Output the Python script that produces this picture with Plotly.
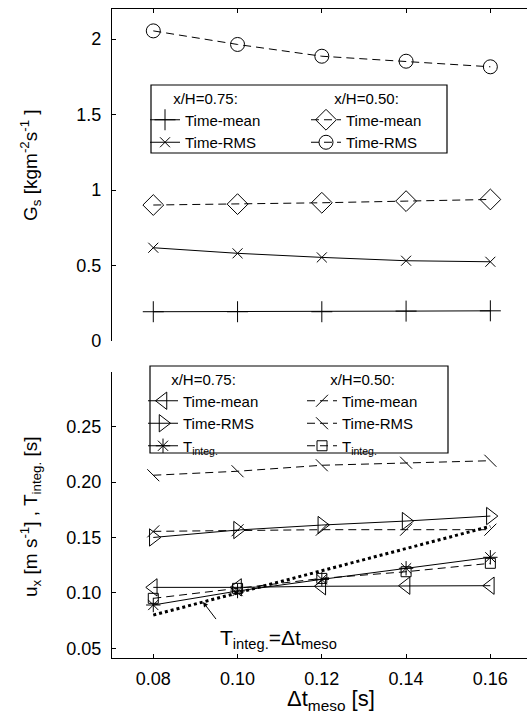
import plotly.graph_objects as go

# ---------------- data ----------------
dt_meso = [0.08, 0.10, 0.12, 0.14, 0.16]

# top panel: G_s [kg m^-2 s^-1]
gs_mean_075 = [0.194, 0.194, 0.194, 0.198, 0.200]
gs_rms_075 = [0.618, 0.581, 0.554, 0.532, 0.525]
gs_mean_050 = [0.901, 0.907, 0.916, 0.927, 0.938]
gs_rms_050 = [2.055, 1.965, 1.887, 1.854, 1.817]

# bottom panel: u_x [m s^-1], T_integ [s]
ux_mean_075 = [0.105, 0.105, 0.106, 0.1065, 0.1065]
ux_rms_075 = [0.150, 0.1567, 0.1612, 0.1648, 0.1693]
tint_075 = [0.0891, 0.1017, 0.1122, 0.1222, 0.1321]
ux_mean_050 = [0.1555, 0.1565, 0.157, 0.157, 0.157]
ux_rms_050 = [0.2061, 0.2097, 0.2151, 0.2174, 0.2192]
tint_050 = [0.0951, 0.1041, 0.1131, 0.1191, 0.1267]

ref_line_x = [0.08, 0.16]
ref_line_y = [0.08, 0.16]

x_ticks = [0.08, 0.10, 0.12, 0.14, 0.16]
top_y_ticks = [0, 0.5, 1, 1.5, 2]
bot_y_ticks = [0.05, 0.10, 0.15, 0.20, 0.25]

# ---------------- layout helpers ----------------
W, H = 527, 718
ML, MR, MT, MB = 112, 0, 9, 60
PW, PH = W - ML - MR, H - MT - MB


def px(xp):
    return (xp - ML) / PW


def py(yp):
    return (H - MB - yp) / PH


FONT = "Liberation Sans, Arial, Helvetica, sans-serif"
DASH = "8px,5px"

fig = go.Figure()


def add(x, y, name, symbol, size, dash, xa, ya, legend):
    fig.add_trace(go.Scatter(
        x=x, y=y, name=name, mode="lines+markers",
        line=dict(color="black", width=1, dash=dash),
        marker=dict(symbol=symbol, size=size, color="black",
                    line=dict(color="black", width=1)),
        xaxis=xa, yaxis=ya, legend=legend,
    ))


# top panel
add(dt_meso, gs_mean_075, "Time-mean", "cross-thin-open", 15, "solid", "x", "y", "legend")
add(dt_meso, gs_rms_075, "Time-RMS", "x-thin-open", 10, "solid", "x", "y", "legend")
add(dt_meso, gs_mean_050, "Time-mean", "diamond-open", 16, DASH, "x", "y", "legend2")
add(dt_meso, gs_rms_050, "Time-RMS", "circle-open", 14, DASH, "x", "y", "legend2")

# bottom panel
fig.add_trace(go.Scatter(
    x=ref_line_x, y=ref_line_y, mode="lines", showlegend=False,
    line=dict(color="black", width=3, dash="dot"), xaxis="x2", yaxis="y2"))
add(dt_meso, ux_mean_075, "Time-mean", "triangle-left-open", 15, "solid", "x2", "y2", "legend3")
add(dt_meso, ux_rms_075, "Time-RMS", "triangle-right-open", 15, "solid", "x2", "y2", "legend3")
add(dt_meso, tint_075, "T<sub>integ.</sub>", "asterisk-open", 12, "solid", "x2", "y2", "legend3")
add(dt_meso, ux_mean_050, "Time-mean", "line-ne-open", 12, DASH, "x2", "y2", "legend4")
add(dt_meso, ux_rms_050, "Time-RMS", "line-nw-open", 12, DASH, "x2", "y2", "legend4")
add(dt_meso, tint_050, "T<sub>integ.</sub>", "square-open", 10, DASH, "x2", "y2", "legend4")

x_range = [0.0702, 0.1687]
top_dom = [py(341), 1.0]
bot_dom = [0.0, py(372)]

axis_common = dict(showgrid=False, zeroline=False, showline=True, linecolor="black",
                   linewidth=1.2, ticks="inside", ticklen=4, tickcolor="black",
                   tickfont=dict(family=FONT, size=18, color="black"))

legend_common = dict(
    bgcolor="rgba(0,0,0,0)", borderwidth=0, xanchor="left", yanchor="top",
    font=dict(family=FONT, size=15, color="black"), tracegroupgap=0,
    itemclick=False,
)
LT = dict(family=FONT, size=15, color="black")

fig.update_layout(
    width=W, height=H,
    margin=dict(l=ML, r=MR, t=MT, b=MB),
    paper_bgcolor="white", plot_bgcolor="white",
    font=dict(family=FONT, color="black"),
    xaxis=dict(axis_common, domain=[0, 1], range=x_range, anchor="y", side="top",
               tickvals=x_ticks, showticklabels=False),
    yaxis=dict(axis_common, domain=top_dom, range=[0, 2.2], anchor="x",
               tickvals=top_y_ticks, ticklabelstandoff=6),
    xaxis2=dict(axis_common, domain=[0, 1], range=x_range, anchor="y2",
                tickvals=x_ticks, tickformat=".2f", ticklabelstandoff=4),
    yaxis2=dict(axis_common, domain=bot_dom, range=[0.0413, 0.2992], anchor="x2",
                tickvals=bot_y_ticks, tickformat=".2f", ticklabelstandoff=6),
    legend=dict(legend_common, x=px(145), y=py(84),
                title=dict(text="x/H=0.75:", side="top center", font=LT)),
    legend2=dict(legend_common, x=px(306), y=py(84),
                 title=dict(text="x/H=0.50:", side="top center", font=LT)),
    legend3=dict(legend_common, x=px(143), y=py(365),
                 title=dict(text="x/H=0.75:", side="top center", font=LT)),
    legend4=dict(legend_common, x=px(302), y=py(365),
                 title=dict(text="x/H=0.50:", side="top center", font=LT)),
    shapes=[
        dict(type="rect", xref="paper", yref="paper",
             x0=px(151), x1=px(447), y0=py(153), y1=py(85),
             line=dict(color="black", width=1.2), fillcolor="rgba(0,0,0,0)"),
        dict(type="rect", xref="paper", yref="paper",
             x0=px(150), x1=px(448), y0=py(453), y1=py(366),
             line=dict(color="black", width=1.2), fillcolor="rgba(0,0,0,0)"),
    ],
    annotations=[
        # y title top
        dict(xref="paper", yref="paper", x=px(30), y=py(165), showarrow=False,
             text="G<sub>s</sub> [kgm<sup>-2</sup>s<sup>-1</sup> ]", textangle=-90,
             font=dict(family=FONT, size=19, color="black"),
             xanchor="center", yanchor="middle"),
        # y title bottom
        dict(xref="paper", yref="paper", x=px(30), y=py(517), showarrow=False,
             text="u<sub>x</sub> [m s<sup>-1</sup>] , T<sub>integ.</sub> [s]", textangle=-90,
             font=dict(family=FONT, size=19, color="black"),
             xanchor="center", yanchor="middle"),
        # x title
        dict(xref="paper", yref="paper", x=px(331), y=py(700), showarrow=False,
             text="Δt<sub>meso</sub> [s]",
             font=dict(family=FONT, size=22, color="black"),
             xanchor="center", yanchor="middle"),
        # arrow to reference line
        dict(xref="x2", yref="y2", x=0.0918, y=0.0918, text=" ", showarrow=True,
             axref="pixel", ayref="pixel", ax=16, ay=21,
             arrowhead=2, arrowsize=1, arrowwidth=1, arrowcolor="black",
             standoff=0, startstandoff=0),
        # label of reference line
        dict(xref="paper", yref="paper", x=px(218), y=py(639), showarrow=False,
             text="T<sub>integ.</sub>=Δt<sub>meso</sub>",
             font=dict(family=FONT, size=21, color="black"),
             xanchor="left", yanchor="middle"),
    ],
)

fig.write_html("out.html")
